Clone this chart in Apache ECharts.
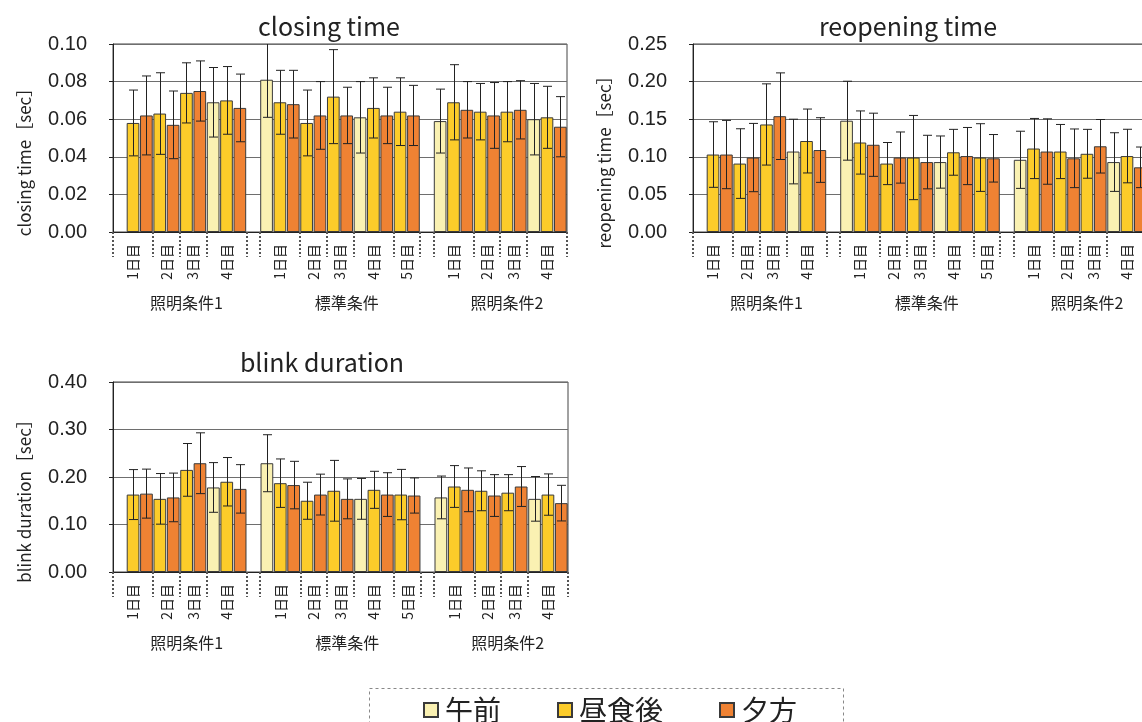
<!DOCTYPE html>
<html>
<head>
<meta charset="utf-8">
<title>closing time / reopening time / blink duration</title>
<script src="https://cdn.jsdelivr.net/npm/echarts@6/dist/echarts.min.js"></script>
<style>
  html, body { margin: 0; padding: 0; background: #fff; }
  #main { width: 1142px; height: 722px; }
</style>
</head>
<body>
<div id="main"></div>
<script>
// 条件・日・時間帯
const conditions = ['照明条件1', '標準条件', '照明条件2'];
const dayNames = [
  ['1日目', '2日目', '3日目', '4日目'],
  ['1日目', '2日目', '3日目', '4日目', '5日目'],
  ['1日目', '2日目', '3日目', '4日目']
];
const sessions = ['午前', '昼食後', '夕方'];
// 各日に測った時間帯（sessions の番号）。照明条件1の1日目は午前の枠が空
const daySessions = [
  [[null, 1, 2], [1, 2], [1, 2], [0, 1, 2]],
  [[0, 1, 2], [1, 2], [1, 2], [0, 1, 2], [1, 2]],
  [[0, 1, 2], [1, 2], [1, 2], [0, 1, 2]]
];

// 平均と標準偏差（棒の並び順）
const closingMean = [0.058, 0.062, 0.063, 0.057, 0.074, 0.075, 0.069, 0.070, 0.066,
  0.081, 0.069, 0.068, 0.058, 0.062, 0.072, 0.062, 0.061, 0.066, 0.062, 0.064, 0.062,
  0.059, 0.069, 0.065, 0.064, 0.062, 0.064, 0.065, 0.060, 0.061, 0.056];
const closingSd = [0.0175, 0.021, 0.0217, 0.018, 0.016, 0.016, 0.0185, 0.018, 0.018,
  0.020, 0.017, 0.018, 0.0175, 0.018, 0.025, 0.015, 0.019, 0.016, 0.015, 0.018, 0.016,
  0.017, 0.020, 0.015, 0.015, 0.0175, 0.016, 0.0155, 0.019, 0.0165, 0.016];

const reopenMean = [0.103, 0.103, 0.091, 0.099, 0.143, 0.154, 0.107, 0.121, 0.109,
  0.148, 0.119, 0.116, 0.091, 0.099, 0.099, 0.093, 0.093, 0.106, 0.101, 0.099, 0.098,
  0.096, 0.111, 0.107, 0.107, 0.098, 0.104, 0.114, 0.093, 0.101, 0.086];
const reopenSd = [0.0436, 0.0454, 0.0463, 0.0454, 0.054, 0.0576, 0.043, 0.0425, 0.043,
  0.0525, 0.042, 0.042, 0.028, 0.034, 0.056, 0.0356, 0.0347, 0.0305, 0.038, 0.045, 0.0316,
  0.038, 0.040, 0.0435, 0.036, 0.039, 0.0325, 0.0356, 0.039, 0.0356, 0.027];

const blinkMean = [0.163, 0.165, 0.154, 0.157, 0.215, 0.229, 0.178, 0.190, 0.175,
  0.229, 0.187, 0.183, 0.150, 0.163, 0.171, 0.154, 0.154, 0.173, 0.163, 0.163, 0.161,
  0.157, 0.180, 0.173, 0.171, 0.161, 0.167, 0.180, 0.154, 0.163, 0.145];
const blinkSd = [0.0526, 0.0516, 0.0533, 0.0512, 0.0555, 0.064, 0.0523, 0.051, 0.051,
  0.060, 0.051, 0.050, 0.039, 0.043, 0.064, 0.042, 0.043, 0.039, 0.046, 0.053, 0.037,
  0.045, 0.044, 0.046, 0.042, 0.044, 0.038, 0.042, 0.047, 0.0435, 0.0375];

const colors = ['#FAF1B2', '#FCCC2A', '#EF8233'];

// 枠の並びを作る（条件の間に空き枠を1つ）
const slots = [];
const dayEdges = [0];
const dayCenters = [];
const dayLabelText = [];
const condCenters = [];
conditions.forEach((c, ci) => {
  const start = slots.length;
  daySessions[ci].forEach((ss, di) => {
    const s0 = slots.length;
    ss.forEach(s => slots.push(s));
    dayCenters.push((s0 + slots.length) / 2);
    dayLabelText.push(dayNames[ci][di]);
    dayEdges.push(slots.length);
  });
  const n = slots.length - start;
  condCenters.push(start + (n + 1) / 2);
  if (ci < conditions.length - 1) {
    slots.push(null);
    dayEdges.push(slots.length);
  }
});
const nSlots = slots.length;

function nearestLabel(v, centers, texts) {
  let best = 0;
  centers.forEach((c, i) => { if (Math.abs(c - v) < Math.abs(centers[best] - v)) best = i; });
  return texts[best];
}

const panels = [
  { title: 'closing time', yName: 'closing time［sec］', mean: closingMean, sd: closingSd,
    max: 0.10, step: 0.02, grid: { left: 113, top: 44, width: 454, height: 188 }, tx: 324, ty: 9 },
  { title: 'reopening time', yName: 'reopening time［sec］', mean: reopenMean, sd: reopenSd,
    max: 0.25, step: 0.05, grid: { left: 693, top: 44, width: 454, height: 188 }, tx: 903, ty: 9 },
  { title: 'blink duration', yName: 'blink duration［sec］', mean: blinkMean, sd: blinkSd,
    max: 0.40, step: 0.10, grid: { left: 113, top: 382, width: 455, height: 190 }, tx: 317, ty: 345 }
];

const font = '"Noto Sans CJK JP", sans-serif';
const titles = [], grids = [], xAxes = [], yAxes = [], series = [];

function renderErr(params, api) {
  const x = api.value(0), m = api.value(1), s = api.value(2);
  const hi = api.coord([x, m + s]);
  const lo = api.coord([x, m - s]);
  const cs = params.coordSys;
  const px = Math.round(hi[0]) + 0.5;
  const top = Math.max(hi[1], cs.y);
  const cap = 4.5;
  const st = { stroke: '#222', lineWidth: 1 };
  const kids = [
    { type: 'line', shape: { x1: px, y1: lo[1], x2: px, y2: top }, style: st },
    { type: 'line', shape: { x1: px - cap, y1: lo[1], x2: px + cap, y2: lo[1] }, style: st }
  ];
  if (hi[1] >= cs.y) {
    kids.push({ type: 'line', shape: { x1: px - cap, y1: hi[1], x2: px + cap, y2: hi[1] }, style: st });
  }
  return { type: 'group', children: kids };
}

panels.forEach((p, gi) => {
  titles.push({
    text: p.title, left: p.tx, top: p.ty, textAlign: 'center',
    textStyle: { fontFamily: font, fontSize: 25, fontWeight: 'normal', color: '#222' }
  });
  grids.push(Object.assign({ show: true, borderColor: '#444', borderWidth: 1, backgroundColor: '#fff',
    outerBoundsMode: 'none', containLabel: false }, p.grid));

  const ax = xAxes.length;
  // 棒用のカテゴリ軸（枠ごとの短い目盛）
  xAxes.push({
    type: 'category', gridIndex: gi, position: 'bottom', data: slots.map((s, i) => i),
    axisLine: { lineStyle: { color: '#222', width: 1 } },
    axisTick: { interval: 0, length: 7, lineStyle: { color: '#333' } },
    axisLabel: { show: false }, splitLine: { show: false }
  });
  // 日の区切り（点線）と日ラベル
  xAxes.push({
    type: 'value', gridIndex: gi, position: 'bottom', min: 0, max: nSlots,
    axisLine: { show: false }, splitLine: { show: false },
    axisTick: { show: true, customValues: dayEdges, length: 25,
      lineStyle: { color: '#555', width: 2, type: [2, 2] } },
    axisLabel: {
      customValues: dayCenters, rotate: 90, margin: 12, fontSize: 14, fontFamily: font, color: '#222',
      formatter: v => nearestLabel(v, dayCenters, dayLabelText)
    }
  });
  // 条件ラベル
  xAxes.push({
    type: 'value', gridIndex: gi, position: 'bottom', min: 0, max: nSlots,
    axisLine: { show: false }, splitLine: { show: false }, axisTick: { show: false },
    axisLabel: {
      customValues: condCenters, margin: 63, fontSize: 16, fontFamily: font, color: '#222',
      formatter: v => nearestLabel(v, condCenters, conditions)
    }
  });

  yAxes.push({
    type: 'value', gridIndex: gi, min: 0, max: p.max, interval: p.step,
    name: p.yName, nameLocation: 'middle', nameGap: 80,
    nameTextStyle: { fontFamily: font, fontSize: 17, color: '#222', padding: [0, 40, 0, 0] },
    axisLine: { show: true, lineStyle: { color: '#222' } },
    axisTick: { show: true, length: 4, lineStyle: { color: '#222' } },
    axisLabel: { fontSize: 20, fontFamily: '"Liberation Sans", Arial, sans-serif', color: '#222', margin: 26,
      formatter: v => v.toFixed(2) },
    splitLine: { lineStyle: { color: '#6e6e6e', width: 1 } }
  });

  // 棒
  const barIndex = [];
  let k = 0;
  slots.forEach(s => { barIndex.push(s === null ? null : k); if (s !== null) k++; });
  sessions.forEach((name, si) => {
    series.push({
      name: name, type: 'bar', xAxisIndex: ax, yAxisIndex: gi,
      barGap: '-100%', barCategoryGap: '5%',
      itemStyle: { color: colors[si], borderColor: '#3a3a3a', borderWidth: 1 },
      data: slots.map((s, i) => (s === si ? p.mean[barIndex[i]] : '-')),
      animation: false
    });
  });
  // 誤差線
  series.push({
    name: 'SD', type: 'custom', xAxisIndex: ax, yAxisIndex: gi, z: 5,
    renderItem: renderErr, encode: { x: 0, y: 1 },
    data: slots.map((s, i) => s === null ? null : [i, p.mean[barIndex[i]], p.sd[barIndex[i]]]).filter(d => d),
    animation: false
  });
});

const chart = echarts.init(document.getElementById('main'));
chart.setOption({
  animation: false,
  title: titles,
  grid: grids,
  xAxis: xAxes,
  yAxis: yAxes,
  legend: {
    data: sessions, left: 418, top: 691, itemWidth: 14, itemHeight: 14, itemGap: 56,
    icon: 'rect',
    textStyle: { fontFamily: font, fontSize: 28, color: '#222', padding: [0, 0, 0, 2] }
  },
  graphic: [{
    type: 'rect', left: 367, top: 686, silent: true,
    shape: { width: 474, height: 60 },
    style: { fill: 'none', stroke: '#888', lineWidth: 1, lineDash: [3, 3] }
  }],
  series: series
});
</script>
</body>
</html>
